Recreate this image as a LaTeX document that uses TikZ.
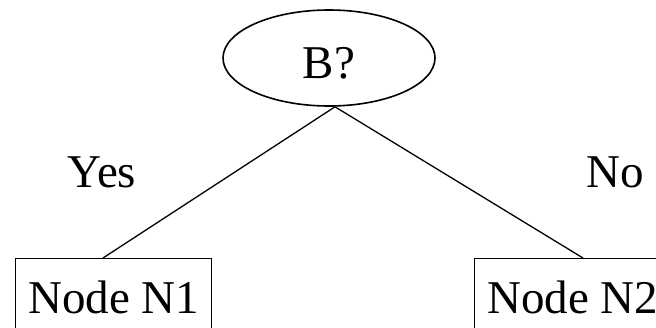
\documentclass[tikz,border=0pt]{standalone}
\usepackage{fontspec}
\setmainfont{Liberation Serif}
\usetikzlibrary{shapes.geometric,calc}
\begin{document}
\begin{tikzpicture}[x=1pt,y=-1pt,
  every node/.style={font=\fontsize{47}{56}\selectfont},
  test/.style={draw,ellipse,line width=1.6pt,minimum width=212pt,minimum height=96pt,inner sep=0pt,text height=40pt,text depth=0pt},
  leaf/.style={draw,rectangle,line width=1.3pt,inner xsep=12.5pt,inner ysep=0pt,text height=55pt,text depth=30pt,anchor=north west},
  edge/.style={line width=1.3pt},
  lbl/.style={inner sep=0pt,anchor=base}]
\useasboundingbox (0,0) rectangle (656,327);
\clip (0,0) rectangle (656,327);
\node[test] (B) at (329,58) {B?};
\node[leaf] (N1) at (15,258) {Node N1};
\node[leaf] (N2) at (474,258) {Node N2};
\coordinate (top) at ($(B.south)+(6,0)$);
\coordinate (e1) at ($(N1.north west)+(88,0)$);
\coordinate (e2) at ($(N2.north west)+(109,0)$);
\draw[edge] (top) -- (e1);
\draw[edge] (top) -- (e2);
\node[lbl] (yes) at (102,187) {Yes};
\node[lbl] (no) at (615,187) {No};
\end{tikzpicture}
\end{document}
